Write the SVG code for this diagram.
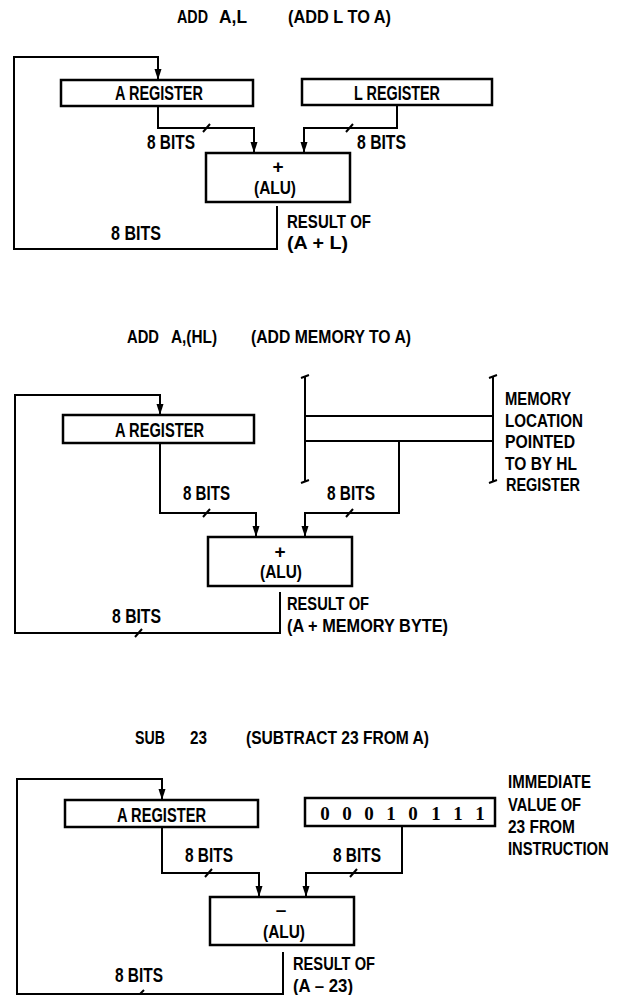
<svg xmlns="http://www.w3.org/2000/svg" width="622" height="995" viewBox="0 0 622 995">
<style>
.t{font-family:"Liberation Sans",Arial,sans-serif;font-weight:bold;font-size:20px;fill:#000}
.s{font-size:19px}
.h{font-size:18px}
.d{font-family:"Liberation Serif","Times New Roman",serif;font-weight:bold;font-size:19px;fill:#000}
.ln{fill:none;stroke:#000;stroke-width:2}
.box{fill:#fff;stroke:#000;stroke-width:2.5}
.arr{marker-end:url(#ah)}
</style>
<defs>
<marker id="ah" viewBox="0 -4 11 8" refX="11" refY="0" markerWidth="11" markerHeight="8" markerUnits="userSpaceOnUse" orient="auto"><path d="M0,-3.5 L11,0 L0,3.5 z" fill="#000"/></marker>
</defs>
<rect width="622" height="995" fill="#fff"/>

<!-- Titles -->
<g id="title1">
<text class="t h" x="177" y="23" textLength="31" lengthAdjust="spacingAndGlyphs">ADD</text>
<text class="t h" x="219" y="23" textLength="28" lengthAdjust="spacingAndGlyphs">A,L</text>
<text class="t h" x="288" y="23" textLength="103" lengthAdjust="spacingAndGlyphs">(ADD L TO A)</text>
</g>
<g id="title2">
<text class="t h" x="127" y="343" textLength="32" lengthAdjust="spacingAndGlyphs">ADD</text>
<text class="t h" x="171" y="343" textLength="46" lengthAdjust="spacingAndGlyphs">A,(HL)</text>
<text class="t h" x="251" y="343" textLength="160" lengthAdjust="spacingAndGlyphs">(ADD MEMORY TO A)</text>
</g>
<g id="title3">
<text class="t h" x="135" y="744" textLength="30" lengthAdjust="spacingAndGlyphs">SUB</text>
<text class="t h" x="190" y="744" textLength="17" lengthAdjust="spacingAndGlyphs">23</text>
<text class="t h" x="246" y="744" textLength="183" lengthAdjust="spacingAndGlyphs">(SUBTRACT 23 FROM A)</text>
</g>

<!-- Connectors -->
<g id="connectors">
<path class="ln arr" d="M277,206 V249 H14 V57 H158 V80"/>
<path class="ln arr" d="M158,106 V128 H254 V153"/>
<path class="ln arr" d="M397,105 V128 H304 V153"/>
<path class="ln" d="M203,132 L210,124 M346,132 L353,124"/>

<path class="ln arr" d="M280,592 V633 H15 V395 H160 V415"/>
<path class="ln arr" d="M160,443 V513 H256 V537"/>
<path class="ln arr" d="M399,441 V513 H305 V537"/>
<path class="ln" d="M203,517 L210,509 M346,517 L353,509 M135,637 L142,629"/>

<path class="ln arr" d="M283,952 V994 H17 V779 H162 V800"/>
<path class="ln arr" d="M162,827 V873 H259 V897"/>
<path class="ln arr" d="M402,826 V873 H306 V897"/>
<path class="ln" d="M205,877 L212,869 M350,877 L357,869 M137,997 L144,990"/>
</g>

<!-- Panel 1 -->
<g id="areg1">
<rect class="box" x="61" y="80" width="192" height="26"/>
<text class="t" x="115" y="100" textLength="88" lengthAdjust="spacingAndGlyphs">A REGISTER</text>
</g>
<g id="lreg1">
<rect class="box" x="302" y="79" width="190" height="26"/>
<text class="t" x="354" y="100" textLength="86" lengthAdjust="spacingAndGlyphs">L REGISTER</text>
</g>
<g id="alu1">
<rect class="box" x="206" y="153" width="144" height="49"/>
<text class="t s" x="278" y="173" text-anchor="middle">+</text>
<text class="t s" x="254" y="194" textLength="42" lengthAdjust="spacingAndGlyphs">(ALU)</text>
</g>
<g id="labels1">
<text class="t" x="147" y="149" textLength="48" lengthAdjust="spacingAndGlyphs">8 BITS</text>
<text class="t" x="357" y="149" textLength="49" lengthAdjust="spacingAndGlyphs">8 BITS</text>
<text class="t" x="111" y="240" textLength="50" lengthAdjust="spacingAndGlyphs">8 BITS</text>
<text class="t s" x="287" y="228" textLength="84" lengthAdjust="spacingAndGlyphs">RESULT OF</text>
<text class="t s" x="287" y="249" textLength="61" lengthAdjust="spacingAndGlyphs">(A + L)</text>
</g>

<!-- Panel 2 -->
<g id="areg2">
<rect class="box" x="63" y="415" width="191" height="28"/>
<text class="t" x="115" y="437" textLength="89" lengthAdjust="spacingAndGlyphs">A REGISTER</text>
</g>
<g id="memory2">
<path class="ln" d="M305,376 V482 M493,376 V482 M305,416 H493 M305,441 H493"/>
<path class="ln" d="M301,378 L309,375 M301,483 L309,480 M489,378 L497,375 M489,483 L497,480"/>
<text class="t s" x="505" y="405" textLength="66" lengthAdjust="spacingAndGlyphs">MEMORY</text>
<text class="t s" x="505" y="427" textLength="78" lengthAdjust="spacingAndGlyphs">LOCATION</text>
<text class="t s" x="505" y="448" textLength="70" lengthAdjust="spacingAndGlyphs">POINTED</text>
<text class="t s" x="505" y="470" textLength="72" lengthAdjust="spacingAndGlyphs">TO BY HL</text>
<text class="t s" x="506" y="491" textLength="74" lengthAdjust="spacingAndGlyphs">REGISTER</text>
</g>
<g id="alu2">
<rect class="box" x="208" y="537" width="144" height="49"/>
<text class="t s" x="280" y="558" text-anchor="middle">+</text>
<text class="t s" x="260" y="578" textLength="42" lengthAdjust="spacingAndGlyphs">(ALU)</text>
</g>
<g id="labels2">
<text class="t" x="183" y="500" textLength="47" lengthAdjust="spacingAndGlyphs">8 BITS</text>
<text class="t" x="327" y="500" textLength="48" lengthAdjust="spacingAndGlyphs">8 BITS</text>
<text class="t" x="112" y="623" textLength="49" lengthAdjust="spacingAndGlyphs">8 BITS</text>
<text class="t s" x="287" y="610" textLength="82" lengthAdjust="spacingAndGlyphs">RESULT OF</text>
<text class="t s" x="287" y="632" textLength="161" lengthAdjust="spacingAndGlyphs">(A + MEMORY BYTE)</text>
</g>

<!-- Panel 3 -->
<g id="areg3">
<rect class="box" x="65" y="800" width="193" height="27"/>
<text class="t" x="117" y="822" textLength="89" lengthAdjust="spacingAndGlyphs">A REGISTER</text>
</g>
<g id="imm3">
<rect class="box" x="305" y="798" width="190" height="28"/>
<text class="d" x="325 347 369 391 413 436 458 480" y="820" text-anchor="middle">00010111</text>
<text class="t s" x="508" y="788" textLength="83" lengthAdjust="spacingAndGlyphs">IMMEDIATE</text>
<text class="t s" x="508" y="811" textLength="73" lengthAdjust="spacingAndGlyphs">VALUE OF</text>
<text class="t s" x="508" y="833" textLength="67" lengthAdjust="spacingAndGlyphs">23 FROM</text>
<text class="t s" transform="translate(508 855) scale(0.78 1)" x="0" y="0" textLength="129" lengthAdjust="spacingAndGlyphs">INSTRUCTION</text>
</g>
<g id="alu3">
<rect class="box" x="210" y="897" width="144" height="48"/>
<text class="t s" x="281" y="916" text-anchor="middle">–</text>
<text class="t s" x="263" y="938" textLength="42" lengthAdjust="spacingAndGlyphs">(ALU)</text>
</g>
<g id="labels3">
<text class="t" x="185" y="862" textLength="48" lengthAdjust="spacingAndGlyphs">8 BITS</text>
<text class="t" x="333" y="862" textLength="48" lengthAdjust="spacingAndGlyphs">8 BITS</text>
<text class="t" x="115" y="982" textLength="48" lengthAdjust="spacingAndGlyphs">8 BITS</text>
<text class="t s" x="293" y="970" textLength="82" lengthAdjust="spacingAndGlyphs">RESULT OF</text>
<text class="t s" x="293" y="992" textLength="60" lengthAdjust="spacingAndGlyphs">(A – 23)</text>
</g>
</svg>
